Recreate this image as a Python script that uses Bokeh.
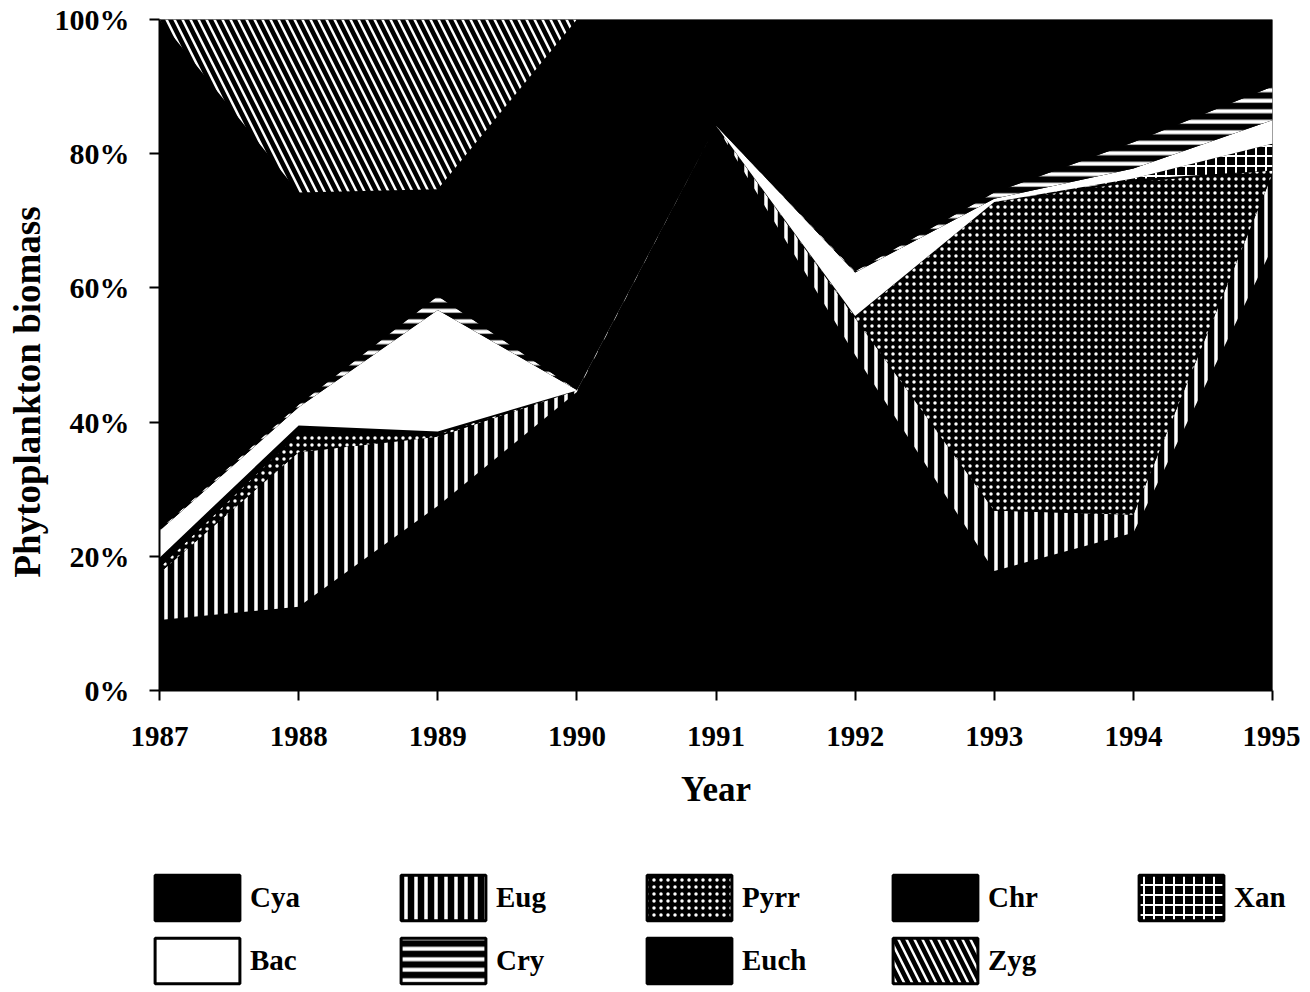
from bokeh.plotting import figure
from bokeh.layouts import column
from bokeh.models import ColumnDataSource, Range1d, Legend, LegendItem, FixedTicker, Title
from bokeh.transform import stack
from bokeh.embed import file_html
from bokeh.resources import INLINE

# ---------------- data (percent of phytoplankton biomass) ----------------
years = [1987, 1988, 1989, 1990, 1991, 1992, 1993, 1994, 1995]
cya  = [10.5, 12.5, 27.5, 44.5, 84.2, 50.0, 17.8, 23.5, 66.0]
eug  = [7.0, 23.0, 10.3, 0.2, 0.0, 5.5, 9.0, 2.7, 11.0]
pyrr = [0.8, 2.8, 0.4, 0.0, 0.0, 0.2, 46.0, 49.6, 0.5]
chr_ = [1.5, 1.2, 0.4, 0.0, 0.0, 0.1, 0.0, 0.4, 0.0]
xan  = [0.0, 0.0, 0.0, 0.0, 0.0, 0.0, 0.0, 0.1, 4.0]
bac  = [4.0, 2.7, 18.1, 0.1, 0.0, 6.5, 0.5, 1.5, 3.5]
cry  = [0.2, 0.4, 2.1, 0.0, 0.0, 0.2, 0.9, 3.9, 5.0]
euch = [76.0, 31.6, 15.9, 55.2, 15.8, 37.5, 25.8, 18.3, 10.0]
zyg  = [0.0, 25.8, 25.3, 0.0, 0.0, 0.0, 0.0, 0.0, 0.0]

series_names = ["Cya", "Eug", "Pyrr", "Chr", "Xan", "Bac", "Cry", "Euch", "Zyg"]
x_tick_labels = ["1987", "1988", "1989", "1990", "1991", "1992", "1993", "1994", "1995"]
y_ticks = [0, 20, 40, 60, 80, 100]
y_tick_labels = ["0%", "20%", "40%", "60%", "80%", "100%"]
x_title = "Year"
y_title = "Phytoplankton biomass"

# ---------------- styles ----------------
styles = {
    "Cya":  dict(fill_color="black", hatch_pattern=" ", hatch_scale=10, hatch_weight=1),
    "Eug":  dict(fill_color="black", hatch_pattern="vertical_line", hatch_scale=10, hatch_weight=3.5),
    "Pyrr": dict(fill_color="black", hatch_pattern="dot", hatch_scale=7, hatch_weight=2.2),
    "Chr":  dict(fill_color="black", hatch_pattern=" ", hatch_scale=10, hatch_weight=1),
    "Xan":  dict(fill_color="black", hatch_pattern="cross", hatch_scale=10, hatch_weight=2),
    "Bac":  dict(fill_color="white", hatch_pattern=" ", hatch_scale=10, hatch_weight=1),
    "Cry":  dict(fill_color="black", hatch_pattern="horizontal_line", hatch_scale=10.5, hatch_weight=4),
    "Euch": dict(fill_color="black", hatch_pattern=" ", hatch_scale=10, hatch_weight=1),
    "Zyg":  dict(fill_color="black", hatch_pattern="left_diagonal_line", hatch_scale=16, hatch_weight=2.5),
}

FONT = "Liberation Serif"
W = 1300
H_MAIN = 860
H_LEG = 130

source = ColumnDataSource(dict(year=years, Cya=cya, Eug=eug, Pyrr=pyrr, Chr=chr_, Xan=xan,
                               Bac=bac, Cry=cry, Euch=euch, Zyg=zyg))

p = figure(width=W, height=H_MAIN, output_backend="svg", toolbar_location=None,
           x_range=Range1d(years[0], years[-1]), y_range=Range1d(0, 100),
           min_border_left=158, min_border_right=W - 1272, min_border_top=19,
           min_border_bottom=H_MAIN - 690)
p.outline_line_color = None
p.xgrid.visible = False
p.ygrid.visible = False
p.background_fill_color = "black"
p.border_fill_color = "white"
p.frame_align = False

for i, name in enumerate(series_names):
    st = styles[name]
    p.varea(x="year", y1=stack(*series_names[:i]), y2=stack(*series_names[:i + 1]),
            source=source, fill_color=st["fill_color"], hatch_pattern=st["hatch_pattern"],
            hatch_color="white", hatch_scale=st["hatch_scale"], hatch_weight=st["hatch_weight"])

# axes
p.xaxis.ticker = FixedTicker(ticks=years)
p.xaxis.major_label_overrides = {y: lab for y, lab in zip(years, x_tick_labels)}
p.yaxis.ticker = FixedTicker(ticks=y_ticks)
p.yaxis.major_label_overrides = {t: lab for t, lab in zip(y_ticks, y_tick_labels)}
for ax in (p.xaxis[0], p.yaxis[0]):
    ax.axis_line_color = "black"
    ax.axis_line_width = 2
    ax.major_tick_line_color = "black"
    ax.major_tick_line_width = 2
    ax.major_tick_in = 0
    ax.major_tick_out = 10
    ax.minor_tick_line_color = None
    ax.major_label_text_font = FONT
    ax.major_label_text_font_style = "bold"
    ax.major_label_text_font_size = "29px"
    ax.major_label_text_color = "black"
    ax.axis_label_text_font = FONT
    ax.axis_label_text_font_style = "bold"
    ax.axis_label_text_font_size = "35px"
    ax.axis_label_text_color = "black"
p.yaxis.major_label_text_font_size = "30px"
p.xaxis.axis_label = x_title
p.xaxis.major_label_standoff = 26
p.xaxis.axis_label_standoff = 21
p.yaxis.major_label_standoff = 20

# y title, placed off-centre as in the original
ytitle = Title(text=y_title, align="left", offset=113,
               text_font=FONT, text_font_style="bold", text_font_size="37px",
               text_color="black", standoff=8)
p.add_layout(ytitle, "left")

# ---------------- legend figure ----------------
leg = figure(width=W, height=H_LEG, output_backend="svg", toolbar_location=None,
             x_axis_type=None, y_axis_type=None, x_range=Range1d(0, 1), y_range=Range1d(0, 1),
             min_border_left=0, min_border_right=0, min_border_top=0, min_border_bottom=0)
leg.outline_line_color = None
leg.xgrid.visible = False
leg.ygrid.visible = False
leg.frame_align = False

# legend proxies: zero-size boxes outside the legend figure's view
items = []
for name in series_names:
    st = styles[name]
    r = leg.quad(left="year", right="year", top=name, bottom=name, source=source,
                 fill_color=st["fill_color"], hatch_pattern=st["hatch_pattern"],
                 hatch_color="white", hatch_scale=st["hatch_scale"],
                 hatch_weight=st["hatch_weight"], line_color="black", line_width=3)
    items.append(LegendItem(label=name, renderers=[r]))

legend = Legend(items=items, orientation="horizontal", ncols=5,
                location=(144, 1), padding=0, margin=0, spacing=6,
                glyph_width=106, glyph_height=57, label_standoff=0, label_width=134,
                border_line_alpha=0, background_fill_alpha=0,
                label_text_font=FONT, label_text_font_style="bold",
                label_text_font_size="29px", label_text_color="black")
leg.add_layout(legend, "center")

open("out.html", "w").write(file_html(column(p, leg, spacing=0), INLINE))
